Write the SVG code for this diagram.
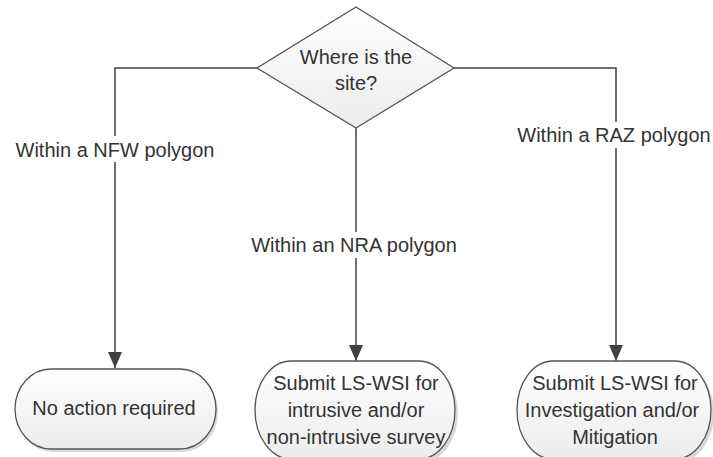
<svg xmlns="http://www.w3.org/2000/svg" width="713" height="457" viewBox="0 0 713 457">
<style>
text{font-family:"Liberation Sans",Arial,sans-serif;font-size:20px;fill:#333;text-anchor:middle}
.ln{fill:none;stroke:#404040;stroke-width:1.5}
.shape{stroke:#555;stroke-width:1.3}
.shadow{fill:#d8d8d8;stroke:none}
.bg{fill:#fff}
</style>
<defs>
<linearGradient id="g" x1="0" y1="0" x2="0" y2="1">
<stop offset="0" stop-color="#ffffff"/>
<stop offset="1" stop-color="#ececec"/>
</linearGradient>
<marker id="arr" markerWidth="16" markerHeight="16" refX="16" refY="7" orient="auto" markerUnits="userSpaceOnUse">
<path d="M0,0 L16,7 L0,14 Z" fill="#404040"/>
</marker>
</defs>
<rect width="713" height="457" fill="#fff"/>
<g id="connectors">
<path class="ln" d="M257,68 H115 V368" marker-end="url(#arr)"/>
<path class="ln" d="M454,68 H616 V361" marker-end="url(#arr)"/>
<path class="ln" d="M356,128 V361" marker-end="url(#arr)"/>
<g id="label-nfw"><rect class="bg" x="10" y="136" width="210" height="26"/><text x="115" y="157">Within a NFW polygon</text></g>
<g id="label-raz"><rect class="bg" x="512" y="122" width="201" height="26"/><text x="614" y="142">Within a RAZ polygon</text></g>
<g id="label-nra"><rect class="bg" x="246" y="232" width="216" height="26"/><text x="354" y="252">Within an NRA polygon</text></g>
</g>
<g id="decision">
<polygon class="shape" points="356,7 454,68 356,128 257,68" fill="url(#g)"/>
<text x="356" y="64">Where is the</text>
<text x="356" y="90">site?</text>
</g>
<g id="no-action">
<rect class="shadow" x="17" y="372" width="201" height="80" rx="36" ry="40"/>
<rect class="shape" x="15" y="369" width="201" height="80" rx="36" ry="40" fill="url(#g)"/>
<text x="114" y="415">No action required</text>
</g>
<g id="nra-action">
<rect class="shadow" x="258" y="364" width="200" height="98" rx="36" ry="49"/>
<rect class="shape" x="255" y="361" width="200" height="98" rx="36" ry="49" fill="url(#g)"/>
<text x="356" y="390">Submit LS-WSI for</text>
<text x="356" y="417">intrusive and/or</text>
<text x="356" y="444">non-intrusive survey</text>
</g>
<g id="raz-action">
<rect class="shadow" x="520" y="364" width="194" height="98" rx="36" ry="49"/>
<rect class="shape" x="517" y="361" width="194" height="98" rx="36" ry="49" fill="url(#g)"/>
<text x="615" y="390">Submit LS-WSI for</text>
<text x="612" y="417">Investigation and/or</text>
<text x="615" y="444">Mitigation</text>
</g>
</svg>
